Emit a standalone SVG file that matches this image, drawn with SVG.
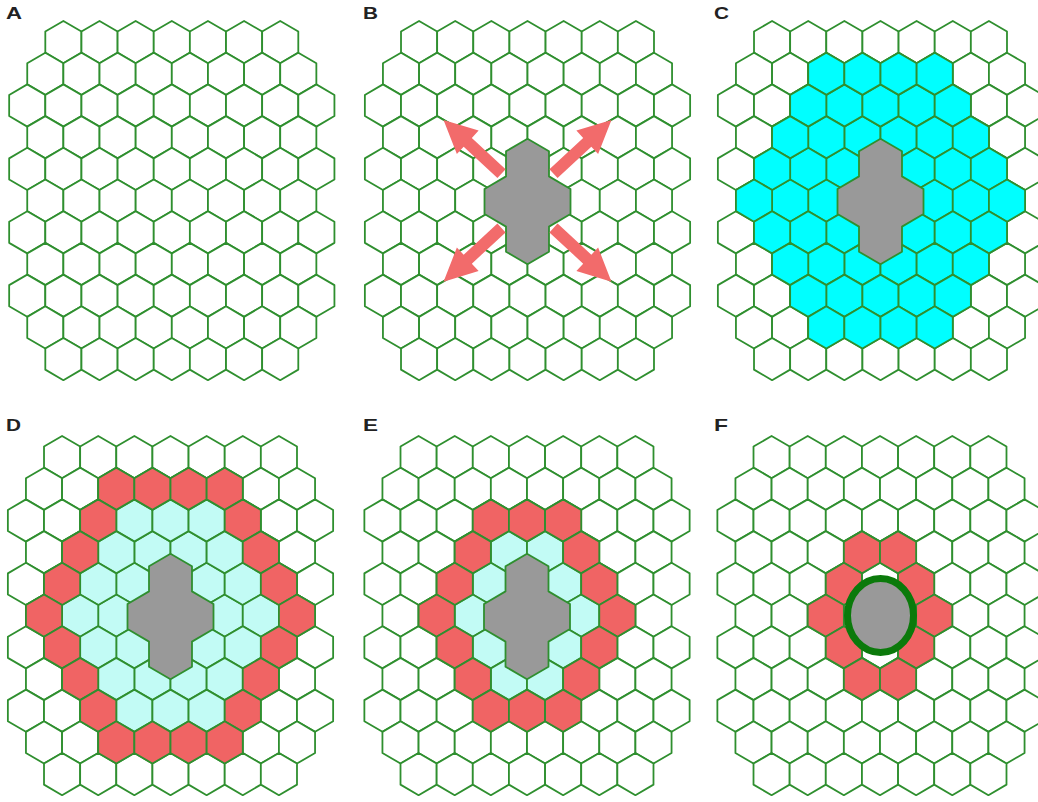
<svg xmlns="http://www.w3.org/2000/svg" xmlns:xlink="http://www.w3.org/1999/xlink" width="1038" height="802" viewBox="0 0 1038 802">
<style>
.lbl{font-family:"Liberation Sans",Arial,sans-serif;font-weight:bold;font-size:16.5px;fill:#222}
.grid use,.cell{stroke:#2f8f2f;stroke-width:1.8;stroke-linejoin:round}
.wht{fill:#fff}
.cyan{fill:#00ffff}
.pale{fill:#c2fbf5}
.red{fill:#f06464}
.gray{fill:#999;stroke:#2f8f2f;stroke-width:1.8;stroke-linejoin:round}
.arrow{fill:#f26b6b}
</style>
<defs>
<polygon id="h" points="0,-21.1 18.07,-10.55 18.07,10.55 0,21.1 -18.07,10.55 -18.07,-10.55"/>
<g id="r7"><use href="#h" x="-108.42"/><use href="#h" x="-72.28"/><use href="#h" x="-36.14"/><use href="#h" x="0"/><use href="#h" x="36.14"/><use href="#h" x="72.28"/><use href="#h" x="108.42"/></g>
<g id="r9"><use href="#h" x="-144.56"/><use href="#h" x="-108.42"/><use href="#h" x="-72.28"/><use href="#h" x="-36.14"/><use href="#h" x="0"/><use href="#h" x="36.14"/><use href="#h" x="72.28"/><use href="#h" x="108.42"/><use href="#h" x="144.56"/></g>
<g id="r8"><use href="#h" x="-126.49"/><use href="#h" x="-90.35"/><use href="#h" x="-54.21"/><use href="#h" x="-18.07"/><use href="#h" x="18.07"/><use href="#h" x="54.21"/><use href="#h" x="90.35"/><use href="#h" x="126.49"/></g>
<g id="grid" class="wht">
<use href="#r7" y="-158.5"/><use href="#r8" y="-126.8"/><use href="#r9" y="-95.1"/><use href="#r8" y="-63.4"/><use href="#r9" y="-31.7"/><use href="#r8" y="0"/><use href="#r9" y="31.7"/><use href="#r8" y="63.4"/><use href="#r9" y="95.1"/><use href="#r8" y="126.8"/><use href="#r7" y="158.5"/>
</g>
<g id="d1">
<use href="#h" x="-18.07" y="-63.4"/><use href="#h" x="18.07" y="-63.4"/>
<use href="#h" x="-36.14" y="-31.7"/><use href="#h" x="36.14" y="-31.7"/>
<use href="#h" x="-54.21" y="0"/><use href="#h" x="54.21" y="0"/>
<use href="#h" x="-36.14" y="31.7"/><use href="#h" x="36.14" y="31.7"/>
<use href="#h" x="-18.07" y="63.4"/><use href="#h" x="18.07" y="63.4"/>
</g>
<g id="d2">
<use href="#h" x="-36.14" y="-95.1"/><use href="#h" x="0" y="-95.1"/><use href="#h" x="36.14" y="-95.1"/>
<use href="#h" x="-54.21" y="-63.4"/><use href="#h" x="54.21" y="-63.4"/>
<use href="#h" x="-72.28" y="-31.7"/><use href="#h" x="72.28" y="-31.7"/>
<use href="#h" x="-90.35" y="0"/><use href="#h" x="90.35" y="0"/>
<use href="#h" x="-72.28" y="31.7"/><use href="#h" x="72.28" y="31.7"/>
<use href="#h" x="-54.21" y="63.4"/><use href="#h" x="54.21" y="63.4"/>
<use href="#h" x="-36.14" y="95.1"/><use href="#h" x="0" y="95.1"/><use href="#h" x="36.14" y="95.1"/>
</g>
<g id="d3">
<use href="#h" x="-54.21" y="-126.8"/><use href="#h" x="-18.07" y="-126.8"/><use href="#h" x="18.07" y="-126.8"/><use href="#h" x="54.21" y="-126.8"/>
<use href="#h" x="-72.28" y="-95.1"/><use href="#h" x="72.28" y="-95.1"/>
<use href="#h" x="-90.35" y="-63.4"/><use href="#h" x="90.35" y="-63.4"/>
<use href="#h" x="-108.42" y="-31.7"/><use href="#h" x="108.42" y="-31.7"/>
<use href="#h" x="-126.49" y="0"/><use href="#h" x="126.49" y="0"/>
<use href="#h" x="-108.42" y="31.7"/><use href="#h" x="108.42" y="31.7"/>
<use href="#h" x="-90.35" y="63.4"/><use href="#h" x="90.35" y="63.4"/>
<use href="#h" x="-72.28" y="95.1"/><use href="#h" x="72.28" y="95.1"/>
<use href="#h" x="-54.21" y="126.8"/><use href="#h" x="-18.07" y="126.8"/><use href="#h" x="18.07" y="126.8"/><use href="#h" x="54.21" y="126.8"/>
</g>
<polygon id="core" points="0,-62.7 21.5,-50.2 21.5,-25.1 43,-12.5 43,12.5 21.5,25.1 21.5,50.2 0,62.7 -21.5,50.2 -21.5,25.1 -43,12.5 -43,-12.5 -21.5,-25.1 -21.5,-50.2"/>
<polygon id="arr" points="0,-6 46,-6 46,-16 79,0 46,16 46,6 0,6"/>
</defs>
<rect width="1038" height="802" fill="#fff"/>

<g id="panelA">
<text class="lbl" x="6" y="18.5" textLength="16" lengthAdjust="spacingAndGlyphs">A</text>
<g class="grid" transform="translate(171.8,200.6)"><use href="#grid"/></g>
</g>

<g id="panelB">
<text class="lbl" x="363" y="18.5" textLength="15" lengthAdjust="spacingAndGlyphs">B</text>
<g class="grid" transform="translate(527.5,200.6)"><use href="#grid"/></g>
<use href="#core" class="gray" x="527.5" y="201.5"/>
<g id="connectors" class="arrow">
<use href="#arr" transform="translate(501.5,173.6) rotate(-137.2)"/>
<use href="#arr" transform="translate(553.5,173.6) rotate(-42.8)"/>
<use href="#arr" transform="translate(501.5,228) rotate(137.2)"/>
<use href="#arr" transform="translate(553.5,228) rotate(42.8)"/>
</g>
</g>

<g id="panelC">
<text class="lbl" x="714" y="18.5" textLength="15" lengthAdjust="spacingAndGlyphs">C</text>
<g class="grid" transform="translate(880.5,200.6)">
<use href="#grid"/>
<use href="#d1" class="cyan"/><use href="#d2" class="cyan"/><use href="#d3" class="cyan"/>
</g>
<use href="#core" class="gray" x="880.5" y="201.5"/>
</g>

<g id="panelD">
<text class="lbl" x="6" y="430.7" textLength="15" lengthAdjust="spacingAndGlyphs">D</text>
<g class="grid" transform="translate(170.5,615.6)">
<use href="#grid"/>
<use href="#d1" class="pale"/><use href="#d2" class="pale"/><use href="#d3" class="red"/>
</g>
<use href="#core" class="gray" x="170.5" y="616.5"/>
</g>

<g id="panelE">
<text class="lbl" x="363" y="430.7" textLength="15" lengthAdjust="spacingAndGlyphs">E</text>
<g class="grid" transform="translate(527,615.6)">
<use href="#grid"/>
<use href="#d1" class="pale"/><use href="#d2" class="red"/>
</g>
<use href="#core" class="gray" x="527" y="616.5"/>
</g>

<g id="panelF">
<text class="lbl" x="714" y="430.7" textLength="14" lengthAdjust="spacingAndGlyphs">F</text>
<g class="grid" transform="translate(880,615.6)">
<use href="#grid"/>
<use href="#d1" class="red"/>
</g>
<ellipse cx="880.5" cy="615.5" rx="33" ry="37" fill="#999" stroke="#0b7a0b" stroke-width="7"/>
</g>
</svg>
